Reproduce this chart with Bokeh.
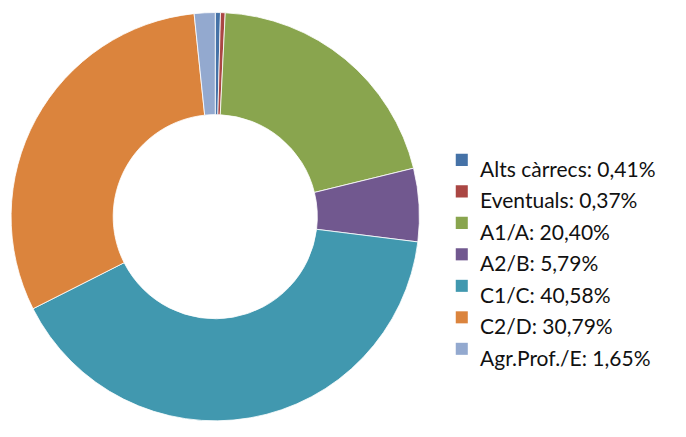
import numpy as np
from bokeh.plotting import figure
from bokeh.models import Range1d, ColumnDataSource
from bokeh.core.properties import value
from bokeh.embed import file_html
from bokeh.resources import INLINE

categories = ["Alts càrrecs", "Eventuals", "A1/A", "A2/B", "C1/C", "C2/D", "Agr.Prof./E"]
percents = [0.41, 0.37, 20.40, 5.79, 40.58, 30.79, 1.65]
colors = ["#4572A7", "#AA4643", "#89A54E", "#71588F", "#4198AF", "#DB843D", "#93A9CF"]

W, H = 670, 421
s = 0.963  # layout scale to fit the frame
p = figure(width=W, height=H, output_backend="svg", toolbar_location=None,
           x_range=Range1d(0, W), y_range=Range1d(0, H), min_border=0)
p.axis.visible = False
p.grid.visible = False
p.outline_line_color = None
p.background_fill_color = "white"

vals = np.array(percents, dtype=float)
frac = vals / vals.sum()
cum = np.concatenate([[0.0], np.cumsum(frac)])
start = np.pi / 2 - cum[:-1] * 2 * np.pi
end = np.pi / 2 - cum[1:] * 2 * np.pi

cx, cy = 223 * s, H - 224.5 * s
src = ColumnDataSource(dict(start=start, end=end, color=colors))
p.annular_wedge(x=cx, y=cy, inner_radius=106 * s, outer_radius=212 * s,
                start_angle="end", end_angle="start", direction="anticlock",
                fill_color="color", line_color="white", line_width=0.8, source=src)

labels = [f"{c}: " + f"{v:.2f}".replace(".", ",") + "%" for c, v in zip(categories, percents)]
idx = np.arange(len(categories))
sq_y = H - (165.5 + 32.7 * idx) * s
tx_y = H - (174 + 32.7 * idx) * s
lsrc = ColumnDataSource(dict(sy=sq_y, ty=tx_y, label=labels, color=colors))
p.rect(x=479 * s, y="sy", width=12.5 * s, height=12.5 * s, fill_color="color",
       line_color=None, source=lsrc)
p.text(x=498 * s, y="ty", text="label", text_font=value("Lato"), text_font_size="21px",
       text_baseline="alphabetic", text_align="left", text_color="#111111", source=lsrc)

open("out.html", "w").write(file_html(p, INLINE))
